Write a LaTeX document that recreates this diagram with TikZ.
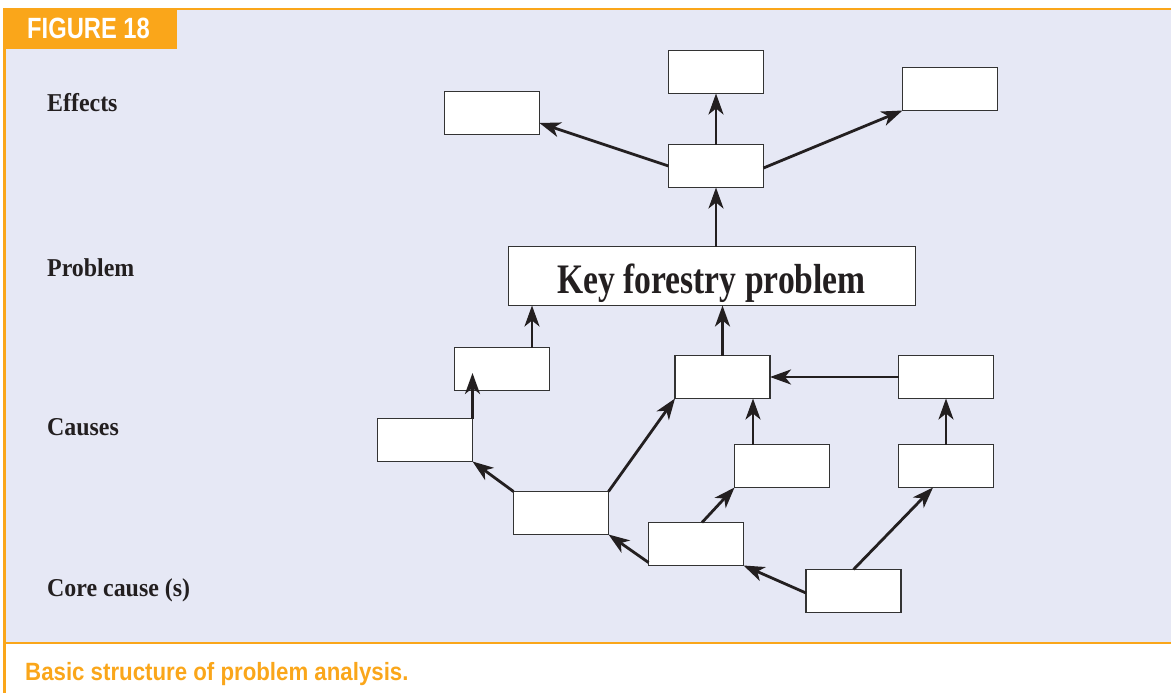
\documentclass[tikz,border=0pt]{standalone}
\usepackage{graphicx}
\usepackage{fontspec}
\setmainfont{Liberation Serif}
\newfontfamily\capfont{Liberation Sans}
\usetikzlibrary{arrows.meta,calc}

\definecolor{panel}{HTML}{E6E8F5}
\definecolor{accent}{HTML}{FAA61A}
\definecolor{ink}{HTML}{231F20}
\definecolor{edge}{HTML}{333333}

\begin{document}
\begin{tikzpicture}[x=1pt,y=-1pt,
  box/.style={draw=edge, line width=1.6pt, fill=white,
    minimum width=95pt, minimum height=43pt, inner sep=0pt, outer sep=0pt},
  link/.style={draw=ink, line width=2.8pt,
    -{Stealth[length=21pt,width=15pt,inset=6pt]}},
  rowlabel/.style={anchor=base west, inner sep=0pt, text=ink,
    font=\bfseries\fontsize{25.7}{28}\selectfont},
]
\useasboundingbox (0,0) rectangle (1171,693);

% panel, frame and header tab
\fill[panel] (5,9) rectangle (1171,643);
\draw[accent, line width=2pt] (3,9) -- (1171,9);
\draw[accent, line width=2pt] (3,643) -- (1171,643);
\draw[accent, line width=2.5pt] (4.5,8) -- (4.5,693);
\fill[accent] (3,8) rectangle (177,49);
\node[anchor=base west, inner sep=0pt, text=white,
  font=\capfont\bfseries\fontsize{29.3}{30}\selectfont] (tag) at (27,39)
  {\scalebox{0.81}[1]{FIGURE 18}};
\node[anchor=base west, inner sep=0pt, text=accent,
  font=\capfont\bfseries\fontsize{25}{27}\selectfont] (caption) at (25,680)
  {\scalebox{0.89}[1]{Basic structure of problem analysis.}};

% row labels
\node[rowlabel] (lEffects) at (47,112) {\scalebox{0.93}[1]{Effects}};
\node[rowlabel] (lProblem) at (47,276) {\scalebox{0.93}[1]{Problem}};
\node[rowlabel] (lCauses)  at (47,435) {\scalebox{0.93}[1]{Causes}};
\node[rowlabel] (lCore)    at (47,596) {\scalebox{0.93}[1]{Core cause (s)}};

% effects
\node[box] (E1) at (492,113) {};
\node[box] (E2) at (716,72) {};
\node[box] (E3) at (950,89) {};
\node[box] (M)  at (716,166) {};

% key problem
\node[box, minimum width=407pt, minimum height=59pt] (P) at (712,276) {};
\node[anchor=base, inner sep=0pt, text=ink,
  font=\bfseries\fontsize{42}{44}\selectfont] (Ptext) at (711.5,293)
  {\scalebox{0.8}[1]{Key forestry problem}};

% causes
\node[box] (C1) at (502,369) {};
\node[box] (C2) at (425,440) {};
\node[box] (C3) at (722.5,377) {};
\node[box] (C4) at (946,377) {};
\node[box] (C5) at (782,466) {};
\node[box] (C6) at (946,466) {};

% core causes
\node[box] (D1) at (561,513) {};
\node[box] (D2) at (696,544) {};
\node[box] (D3) at (853.5,591) {};

% connector end points off the node centres
\coordinate (c1top) at ($(C1.north)+(30,0)$);
\coordinate (c5top) at ($(C5.north)+(-29,0)$);
\coordinate (c1in)  at ($(C2.north east |- C1.center)+(0,4)$);

% connectors
\draw[link] (M.north) -- (E2.south);
\draw[link] (M.west) -- ($(E1.east)+(0,10)$);
\draw[link] ($(M.east)+(0,2)$) -- (E3.south west);
\draw[link] (M.south |- P.north) -- (M.south);
\draw[link] (c1top) -- (c1top |- P.south);
\draw[link] (C3.north) -- (C3.north |- P.south);
\draw[link] (C2.north east) -- (c1in);
\draw[link] (D1.north west) -- (C2.south east);
\draw[link] (D1.north east) -- (C3.south west);
\draw[link] ($(D2.south west)+(0,-3)$) -- (D1.south east);
\draw[link] ($(D2.north)+(6,0)$) -- (C5.south west);
\draw[link] ($(D3.west)+(0,2)$) -- (D2.south east);
\draw[link] (D3.north) -- ($(C6.south)+(-13,0)$);
\draw[link] (c5top) -- (c5top |- C3.south);
\draw[link] (C6.north) -- (C4.south);
\draw[link] (C4.west) -- (C3.east);
\end{tikzpicture}
\end{document}
